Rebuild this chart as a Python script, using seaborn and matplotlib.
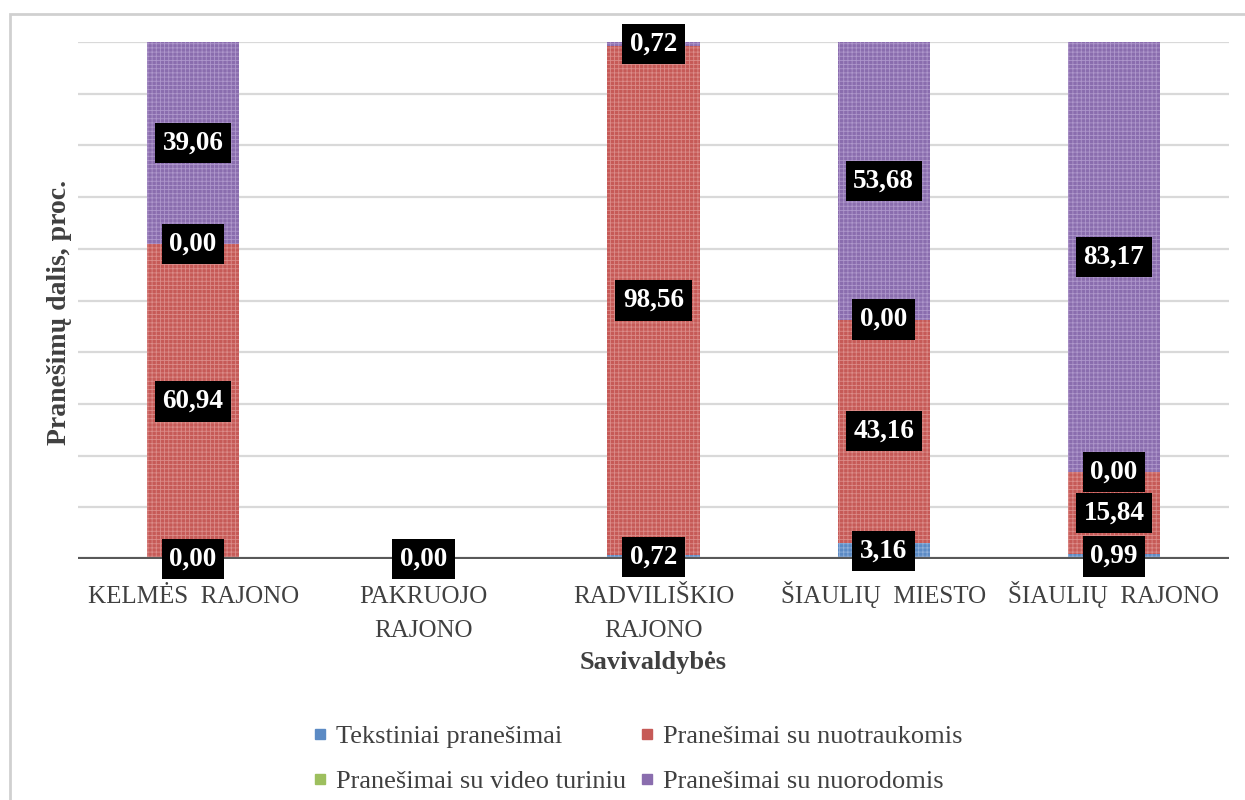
import numpy as np
import pandas as pd
import matplotlib
matplotlib.use("Agg")
import matplotlib.pyplot as plt
from matplotlib.lines import Line2D
from matplotlib.patches import Rectangle
import seaborn as sns

# Municipalities (x axis)
categories = ["KELMĖS  RAJONO", "PAKRUOJO\nRAJONO", "RADVILIŠKIO\nRAJONO",
              "ŠIAULIŲ  MIESTO", "ŠIAULIŲ  RAJONO"]

# Share of posts by type, percent
tekstiniai = [0.00, 0.00, 0.72, 3.16, 0.99]
nuotraukos = [60.94, 0.00, 98.56, 43.16, 15.84]
video = [0.00, 0.00, np.nan, 0.00, 0.00]
nuorodos = [39.06, 0.00, 0.72, 53.68, 83.17]

series_names = ["Tekstiniai pranešimai", "Pranešimai su nuotraukomis",
                "Pranešimai su video turiniu", "Pranešimai su nuorodomis"]
series_values = [tekstiniai, nuotraukos, video, nuorodos]
colors = ["#5B8AC4", "#C65A57", "#9DBF5E", "#8A6DAE"]
hatch_colors = ["#8FB0DA", "#DB8C89", "#C3DA96", "#AE97CB"]

sns.set_theme(style="white")
plt.rcParams["font.family"] = ["Liberation Serif", "DejaVu Serif"]
plt.rcParams["hatch.linewidth"] = 0.6

fig = plt.figure(figsize=(12.45, 8), dpi=100)
ax = fig.add_axes([78 / 1245, 1 - 559 / 800, (1229 - 78) / 1245, (559 - 42) / 800])

vals = np.nan_to_num(np.array(series_values, dtype=float))
cum = np.cumsum(vals, axis=0)

# Stacked bars: draw cumulative totals from the top segment downwards
for i in range(3, -1, -1):
    df = pd.DataFrame({"cat": categories, "val": cum[i]})
    sns.barplot(data=df, x="cat", y="val", ax=ax, color=colors[i], width=0.4,
                saturation=1, edgecolor=hatch_colors[i], linewidth=0,
                hatch="++++", order=categories)

ax.set_ylim(0, 100)
ax.set_xlim(-0.5, 4.5)
ax.set_yticks(np.arange(0, 101, 10))
ax.set_yticklabels([])
ax.tick_params(axis="y", length=0)
ax.tick_params(axis="x", length=0, pad=56)
ax.grid(axis="y", color="#D9D9D9", linewidth=1.6)
ax.set_axisbelow(True)
for s in ax.spines.values():
    s.set_visible(False)
ax.axhline(0, color="#595959", linewidth=3, zorder=3)

# Every tick label gets two lines so the first rows share one baseline
tick_labels = [c if "\n" in c else c + "\n" for c in categories]
ax.set_xticks(range(len(categories)))
ax.set_xticklabels(tick_labels, fontsize=18, color="#404040", linespacing=1.7)
for lbl in ax.get_xticklabels():
    lbl.set_va("baseline")
ax.set_xlabel("Savivaldybės", fontsize=19, fontweight="bold", color="#404040")
ax.xaxis.set_label_coords(0.5, -(662 - 559) / 517)
ax.set_ylabel("Pranešimų dalis, proc.", fontsize=20, fontweight="bold", color="#404040")
ax.yaxis.set_label_coords(-(78 - 60) / 1151, (559 - 312) / 517)
ax.xaxis.label.set_va("center")
ax.yaxis.label.set_va("center")

# Value labels at the centre of each segment
for i, vals_i in enumerate(series_values):
    for j, v in enumerate(vals_i):
        if np.isnan(v):
            continue
        y = cum[i][j] - vals[i][j] / 2
        ax.text(j, y, f"{v:.2f}".replace(".", ","), ha="center", va="center",
                fontsize=19.5, fontweight="bold", color="white", zorder=5,
                bbox=dict(boxstyle="square,pad=0.28", fc="black", ec="none"))

# Legend in two rows
order = [0, 2, 1, 3]
handles = [Line2D([], [], marker="s", linestyle="none", markersize=7,
                  markerfacecolor=colors[k], markeredgecolor=colors[k]) for k in order]
fig.legend(handles, [series_names[k] for k in order], ncol=2, loc="center",
           bbox_to_anchor=(637 / 1245, 1 - 759 / 800), frameon=False, fontsize=19,
           labelcolor="#404040", handletextpad=0.25, columnspacing=0.45,
           labelspacing=0.8, handlelength=0.7)

# Chart frame
fig.patches.append(Rectangle((10 / 1245, -0.02), 1.05, 1 - 14 / 800 + 0.02,
                             transform=fig.transFigure, fill=False,
                             edgecolor="#D0D0D0", linewidth=2))

fig.savefig("out.png", dpi=100)
